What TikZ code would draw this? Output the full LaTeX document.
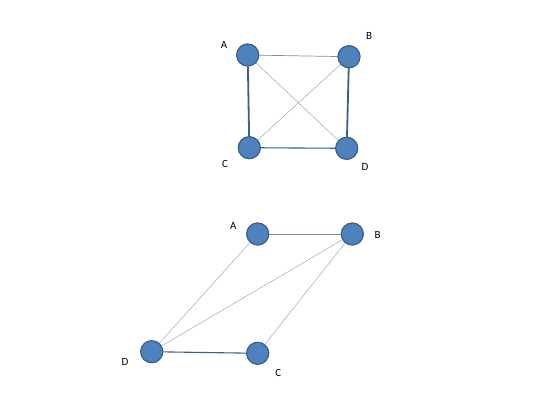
\documentclass[tikz,border=0pt]{standalone}
\usepackage{fontspec}
\setmainfont{Carlito}
\begin{document}
\begin{tikzpicture}[x=1pt,y=-1pt,
  vert/.style={circle,draw=vborder,fill=vfill,line width=1pt,minimum size=22pt,inner sep=0pt},
  lab/.style={font=\fontsize{11}{13}\selectfont,text=black,inner sep=0pt},
  thin edge/.style={draw=edgegray,line width=0.4pt},
  thick edge/.style={draw=edgeblue,line width=1.8pt},
  mid edge/.style={draw=edgeblue,line width=1.1pt},
  line edge/.style={draw=edgeblue!70,line width=0.7pt}]
\definecolor{vfill}{HTML}{4F81BD}
\definecolor{vborder}{HTML}{385D8A}
\definecolor{edgeblue}{HTML}{3A5F8B}
\definecolor{edgegray}{HTML}{8A9CB0}
\useasboundingbox (0,0) rectangle (540,405);
% top graph
\node[vert] (tA) at (247.7,55) {};
\node[vert] (tB) at (349,56.7) {};
\node[vert] (tC) at (249.3,147.7) {};
\node[vert] (tD) at (346.7,148.3) {};
\path[line edge] (tA) -- (tB);
\path[thick edge] (tA) -- (tC);
\path[thick edge] (tB) -- (tD);
\path[mid edge] (tC) -- (tD);
\path[thin edge] (tA.center) -- (tD.center);
\path[thin edge] (tC.center) -- (tB.center);
\node[vert] at (tA) {};
\node[vert] at (tB) {};
\node[vert] at (tC) {};
\node[vert] at (tD) {};
\node[lab] (ltA) at (224,45) {A};
\node[lab] (ltB) at (369,35.7) {B};
\node[lab] (ltC) at (225,164) {C};
\node[lab] (ltD) at (365,166.7) {D};
% bottom graph
\node[vert] (bA) at (257.7,234) {};
\node[vert] (bB) at (352.3,234) {};
\node[vert] (bD) at (151.7,351.7) {};
\node[vert] (bC) at (257.7,353.3) {};
\path[line edge] (bA) -- (bB);
\path[thin edge] (bA.center) -- (bD.center);
\path[thin edge] (bD.center) -- (bB.center);
\path[thin edge] (bB.center) -- (bC.center);
\path[mid edge] (bD) -- (bC);
\node[vert] at (bA) {};
\node[vert] at (bB) {};
\node[vert] at (bD) {};
\node[vert] at (bC) {};
\node[lab] (lbA) at (233.3,226) {A};
\node[lab] (lbB) at (377.7,235) {B};
\node[lab] (lbD) at (125,361.7) {D};
\node[lab] (lbC) at (278.3,373.3) {C};
\end{tikzpicture}
\end{document}
